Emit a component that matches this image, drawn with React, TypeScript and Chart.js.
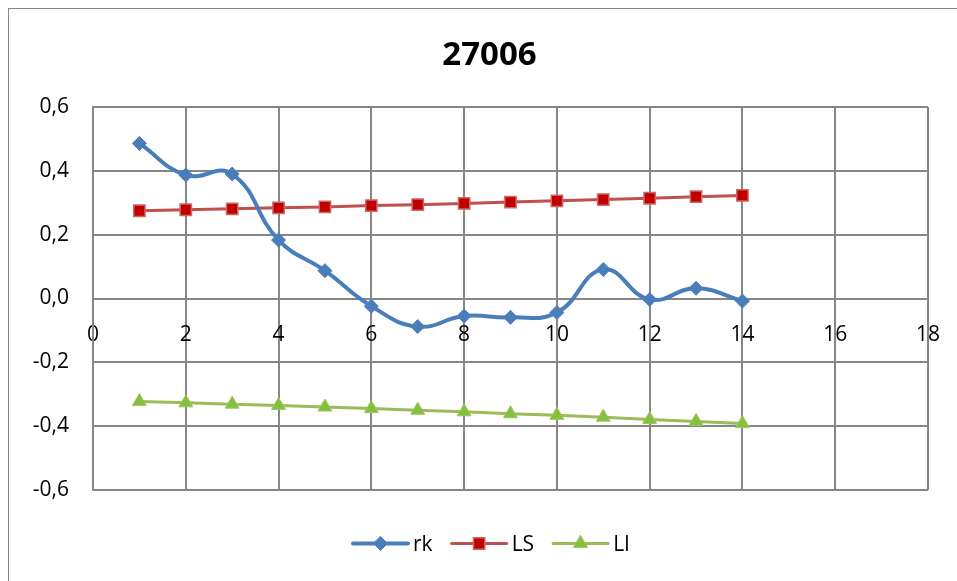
import React, { useEffect, useRef } from "react";
import { Chart, registerables } from "chart.js";

Chart.register(...registerables);

const chartTitle = "27006";
const lags = [1, 2, 3, 4, 5, 6, 7, 8, 9, 10, 11, 12, 13, 14];
const rk = [0.486, 0.387, 0.39, 0.183, 0.087, -0.024, -0.088, -0.055, -0.059, -0.044, 0.091, -0.003, 0.032, -0.008];
const ls = [0.275, 0.278, 0.281, 0.284, 0.287, 0.291, 0.294, 0.298, 0.302, 0.306, 0.31, 0.314, 0.319, 0.323];
const li = [-0.323, -0.327, -0.331, -0.335, -0.34, -0.345, -0.35, -0.355, -0.361, -0.366, -0.372, -0.379, -0.385, -0.392];
const seriesNames = ["rk", "LS", "LI"];
const xTicks = [0, 2, 4, 6, 8, 10, 12, 14, 16, 18];
const yTicks = [-0.6, -0.4, -0.2, 0, 0.2, 0.4, 0.6];

const FONT = '"Open Sans", "Noto Sans", sans-serif';
const GRID = "#868686";

function drawMarker(ctx: CanvasRenderingContext2D, style: string, x: number, y: number, r: number, fill: string, stroke: string, bw: number) {
  ctx.beginPath();
  if (style === "rectRot") {
    ctx.moveTo(x, y - r);
    ctx.lineTo(x + r, y);
    ctx.lineTo(x, y + r);
    ctx.lineTo(x - r, y);
    ctx.closePath();
  } else if (style === "rect") {
    const s = r * Math.SQRT1_2;
    ctx.rect(x - s, y - s, 2 * s, 2 * s);
  } else {
    const h = r;
    ctx.moveTo(x, y - h);
    ctx.lineTo(x + h * Math.sin(Math.PI / 3), y + h / 2);
    ctx.lineTo(x - h * Math.sin(Math.PI / 3), y + h / 2);
    ctx.closePath();
  }
  ctx.fillStyle = fill;
  ctx.fill();
  ctx.lineWidth = bw;
  ctx.strokeStyle = stroke;
  ctx.stroke();
}

const legendPlugin = {
  id: "excelLegend",
  afterDraw(chart: any) {
    const ctx: CanvasRenderingContext2D = chart.ctx;
    ctx.save();
    ctx.font = `21px ${FONT}`;
    const lineW = 55;
    const gapText = 5;
    const gapItem = 19;
    const items = chart.data.datasets.map((ds: any) => ({ ds, tw: ctx.measureText(ds.label).width }));
    let total = 0;
    items.forEach((it: any, i: number) => {
      total += lineW + gapText + it.tw + (i > 0 ? gapItem : 0);
    });
    let x = chart.width / 2 - total / 2 + 2;
    const y = chart.chartArea.bottom + 53.5;
    items.forEach((it: any) => {
      const ds = it.ds;
      ctx.beginPath();
      ctx.moveTo(x, y);
      ctx.lineTo(x + lineW, y);
      ctx.strokeStyle = ds.borderColor;
      ctx.lineWidth = ds.borderWidth;
      ctx.lineCap = "round";
      ctx.stroke();
      drawMarker(ctx, ds.pointStyle, x + lineW / 2, y, ds.pointRadius, ds.pointBackgroundColor, ds.pointBorderColor, ds.pointBorderWidth);
      ctx.fillStyle = "#000";
      ctx.textAlign = "left";
      ctx.textBaseline = "middle";
      ctx.fillText(ds.label, x + lineW + gapText, y + 1.5);
      x += lineW + gapText + it.tw + gapItem;
    });
    ctx.restore();
  },
};

export default function App() {
  const ref = useRef<HTMLCanvasElement | null>(null);

  useEffect(() => {
    if (!ref.current) return;
    const pts = (ys: number[]) => lags.map((x, i) => ({ x, y: ys[i] }));
    const chart = new Chart(ref.current, {
      type: "line",
      data: {
        datasets: [
          {
            label: seriesNames[0],
            data: pts(rk),
            borderColor: "#4A7EBB",
            borderWidth: 4,
            tension: 0.45,
            pointStyle: "rectRot",
            pointRadius: 7,
            pointBackgroundColor: "#4A7EBB",
            pointBorderColor: "#4A7EBB",
            pointBorderWidth: 1,
          },
          {
            label: seriesNames[1],
            data: pts(ls),
            borderColor: "#C0504D",
            borderWidth: 3,
            tension: 0,
            pointStyle: "rect",
            pointRadius: 8,
            pointBackgroundColor: "#C00000",
            pointBorderColor: "#D06663",
            pointBorderWidth: 1.5,
          },
          {
            label: seriesNames[2],
            data: pts(li),
            borderColor: "#9BBB59",
            borderWidth: 3,
            tension: 0,
            pointStyle: "triangle",
            pointRadius: 8,
            pointBackgroundColor: "#86BF3E",
            pointBorderColor: "#9BC75E",
            pointBorderWidth: 1,
          },
        ] as any,
      },
      options: {
        animation: false,
        responsive: true,
        maintainAspectRatio: false,
        layout: { padding: { left: 0, right: 0, top: 0, bottom: 119 } },
        plugins: {
          legend: { display: false },
          tooltip: { enabled: false },
          title: {
            display: true,
            text: chartTitle,
            color: "#000",
            font: { family: FONT, size: 33, weight: "bold" },
            padding: { top: 26.5, bottom: 31.9 },
          },
        },
        scales: {
          x: {
            type: "linear",
            position: { y: 0 } as any,
            min: 0,
            max: 18,
            afterBuildTicks: (s: any) => {
              s.ticks = xTicks.map((v) => ({ value: v }));
            },
            ticks: {
              color: "#000",
              font: { family: FONT, size: 21 },
              padding: 24,
              maxRotation: 0,
              autoSkip: false,
              callback: (v: any) => String(v),
            },
            grid: { color: GRID, lineWidth: 2, drawTicks: false },
            border: { color: GRID, width: 2 },
          },
          y: {
            type: "linear",
            min: -0.6,
            max: 0.6,
            afterBuildTicks: (s: any) => {
              s.ticks = yTicks.map((v) => ({ value: v }));
            },
            afterFit: (s: any) => {
              s.width = 84;
            },
            ticks: {
              color: "#000",
              font: { family: FONT, size: 21 },
              padding: 24,
              autoSkip: false,
              callback: (v: any) => Number(v).toFixed(1).replace(".", ","),
            },
            grid: { color: GRID, lineWidth: 2, drawTicks: false },
            border: { color: GRID, width: 2 },
          },
          spacer: {
            type: "linear",
            position: "right",
            display: true,
            min: 0,
            max: 1,
            afterFit: (s: any) => {
              s.width = 42;
            },
            ticks: { display: false },
            grid: { display: false, drawTicks: false },
            border: { display: false },
          },
        } as any,
      },
      plugins: [legendPlugin],
    });
    return () => chart.destroy();
  }, []);

  return (
    <div
      style={{
        position: "fixed",
        left: 8,
        top: 8,
        width: 962,
        height: 601,
        borderLeft: "1px solid #868686",
        borderTop: "1px solid #868686",
        background: "#fff",
      }}
    >
      <div style={{ position: "relative", width: 961, height: 600 }}>
        <canvas ref={ref} />
      </div>
    </div>
  );
}
